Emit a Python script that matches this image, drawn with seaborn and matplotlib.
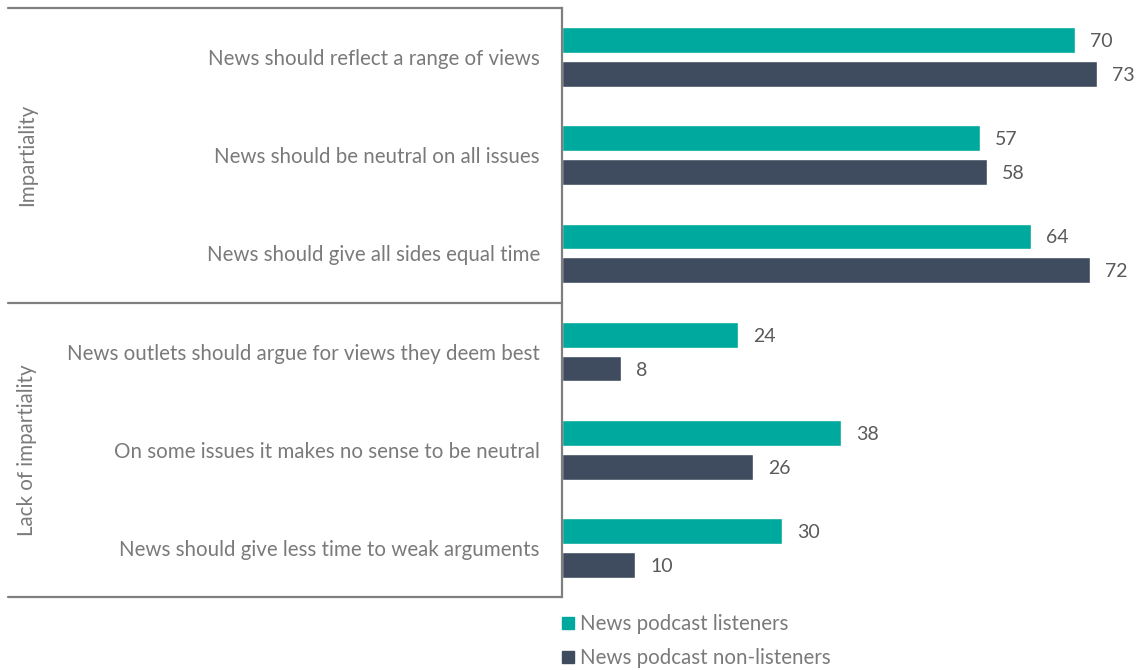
import matplotlib
matplotlib.use("Agg")
import matplotlib.pyplot as plt
import matplotlib.transforms as mtransforms
from matplotlib.lines import Line2D
import seaborn as sns
import pandas as pd

statements = [
    "News should reflect a range of views",
    "News should be neutral on all issues",
    "News should give all sides equal time",
    "News outlets should argue for views they deem best",
    "On some issues it makes no sense to be neutral",
    "News should give less time to weak arguments",
]
groups = ["Impartiality", "Lack of impartiality"]
series = ["News podcast listeners", "News podcast non-listeners"]
listeners = [70, 57, 64, 24, 38, 30]
non_listeners = [73, 58, 72, 8, 26, 10]

TEAL = "#00A99D"
SLATE = "#3F4B5E"
TEXT = "#7a7a7a"
LINE = "#7f7f7f"

df = pd.DataFrame({
    "statement": statements * 2,
    "group": [series[0]] * len(statements) + [series[1]] * len(statements),
    "value": listeners + non_listeners,
})

sns.set_theme(style="white")
plt.rcParams["font.family"] = ["Lato", "DejaVu Sans"]

W, H = 1139, 670
fig = plt.figure(figsize=(W / 100, H / 100), dpi=100)
ax = fig.add_axes([562 / W, (H - 597) / H, (W - 562) / W, (597 - 8) / H])

sns.barplot(
    data=df, y="statement", x="value", hue="group", orient="h",
    palette=[TEAL, SLATE], width=0.69, gap=0.24, ax=ax, legend=False,
    saturation=1,
)

ax.set_xlim(0, (W - 562) / 7.33)
ax.set_ylim(5.5, -0.5)
ax.set_xlabel("")
ax.set_ylabel("")
ax.set_xticks([])
ax.tick_params(axis="y", length=0, pad=16, labelsize=14.8, labelcolor=TEXT)

for s in ["top", "right", "bottom"]:
    ax.spines[s].set_visible(False)
ax.spines["left"].set_color(LINE)
ax.spines["left"].set_linewidth(1.6)

# value labels
for container in ax.containers:
    labels = ax.bar_label(container, padding=11, fontsize=14, color="#5a5a5a")
    for t in labels:
        t.set_va("center_baseline")

# horizontal separators reaching into the label column
trans = mtransforms.blended_transform_factory(fig.transFigure, ax.transData)
for yv in [-0.5, 2.5, 5.5]:
    fig.add_artist(Line2D([8 / W, 562 / W], [yv, yv], transform=trans,
                          color=LINE, linewidth=1.6))

# group labels
for label, yc in zip(groups, [1.0, 4.0]):
    fig.text(27 / W, yc, label, rotation=90, ha="center", va="center",
             fontsize=14.8, color=TEXT, transform=trans)

# legend
handles = [Line2D([], [], marker="s", linestyle="", markersize=9, color=c)
           for c in [TEAL, SLATE]]
fig.legend(handles, series, loc="upper left",
           bbox_to_anchor=(562 / W, (H - 614) / H), frameon=False,
           fontsize=14.8, labelcolor=TEXT, handlelength=0.6,
           handletextpad=0.3, labelspacing=0.7, borderaxespad=0,
           borderpad=0)

fig.savefig("out.png", dpi=100)
